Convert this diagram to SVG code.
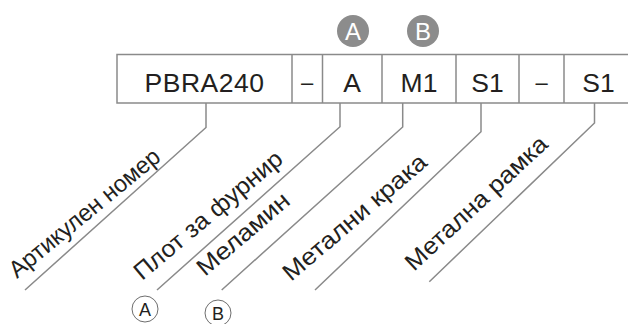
<svg xmlns="http://www.w3.org/2000/svg" width="628" height="324" viewBox="0 0 628 324">
<style>
.box{fill:#fff;stroke:#8a8a8a;stroke-width:1.5}
.code{font-family:"Liberation Sans",Arial,sans-serif;font-size:26.5px;fill:#231f20;text-anchor:middle}
.dash{font-family:"Liberation Sans",Arial,sans-serif;font-size:22px;fill:#231f20;text-anchor:middle}
.lead{fill:none;stroke:#8a8a8a;stroke-width:1.5}
.lbl{font-family:"Liberation Sans",Arial,sans-serif;font-size:24px;fill:#231f20}
.badge{fill:#8c8c8c}
.badgeT{font-family:"Liberation Sans",Arial,sans-serif;font-size:24px;fill:#fff;text-anchor:middle}
.ring{fill:#fff;stroke:#6e6e6e;stroke-width:1}
.ringT{font-family:"Liberation Sans",Arial,sans-serif;font-size:18px;fill:#231f20;text-anchor:middle}
</style>
<g id="code-table">
<rect class="box" x="117" y="54.5" width="520" height="48.5"/>
<line class="lead" x1="292" y1="54.5" x2="292" y2="103"/>
<line class="lead" x1="322.5" y1="54.5" x2="322.5" y2="103"/>
<line class="lead" x1="382" y1="54.5" x2="382" y2="103"/>
<line class="lead" x1="456" y1="54.5" x2="456" y2="103"/>
<line class="lead" x1="519" y1="54.5" x2="519" y2="103"/>
<line class="lead" x1="564" y1="54.5" x2="564" y2="103"/>
<text class="code" x="204.5" y="92" letter-spacing="0.5">PBRA240</text>
<text class="dash" x="307" y="90">–</text>
<text class="code" x="352" y="92">A</text>
<text class="code" x="419" y="92">M1</text>
<text class="code" x="487.5" y="92">S1</text>
<text class="dash" x="541.5" y="90">–</text>
<text class="code" x="598.5" y="92">S1</text>
</g>
<g id="badge-A"><circle class="badge" cx="353" cy="31" r="16"/><text class="badgeT" x="353" y="39.5">A</text></g>
<g id="badge-B"><circle class="badge" cx="423" cy="31" r="16"/><text class="badgeT" x="423" y="39.5">B</text></g>
<g id="connectors">
<polyline class="lead" points="206,103 206,127.5 25,290"/>
<polyline class="lead" points="340,103 340,126.7 157,290"/>
<polyline class="lead" points="402.7,103 402.7,127 221.7,290"/>
<polyline class="lead" points="481,103 481,131.7 315,290"/>
<polyline class="lead" points="594.5,103 594.5,123 429.3,281.7"/>
</g>
<g id="label-article"><text class="lbl" transform="translate(17,279) rotate(-39.5)" textLength="188" lengthAdjust="spacingAndGlyphs">Артикулен номер</text></g>
<g id="label-veneer"><text class="lbl" transform="translate(142,281) rotate(-40)" textLength="186" lengthAdjust="spacingAndGlyphs">Плот за фурнир</text></g>
<g id="label-melamine"><text class="lbl" transform="translate(205,277) rotate(-40.5)" textLength="114" lengthAdjust="spacingAndGlyphs">Меламин</text></g>
<g id="label-legs"><text class="lbl" transform="translate(291,282) rotate(-40.5)" textLength="181" lengthAdjust="spacingAndGlyphs">Метални крака</text></g>
<g id="label-frame"><text class="lbl" transform="translate(414,272) rotate(-43)" textLength="185" lengthAdjust="spacingAndGlyphs">Метална рамка</text></g>
<g id="ring-A"><circle class="ring" cx="145" cy="309" r="13"/><text class="ringT" x="145" y="315.5">A</text></g>
<g id="ring-B"><circle class="ring" cx="218" cy="313" r="13"/><text class="ringT" x="218" y="319.5">B</text></g>
</svg>
